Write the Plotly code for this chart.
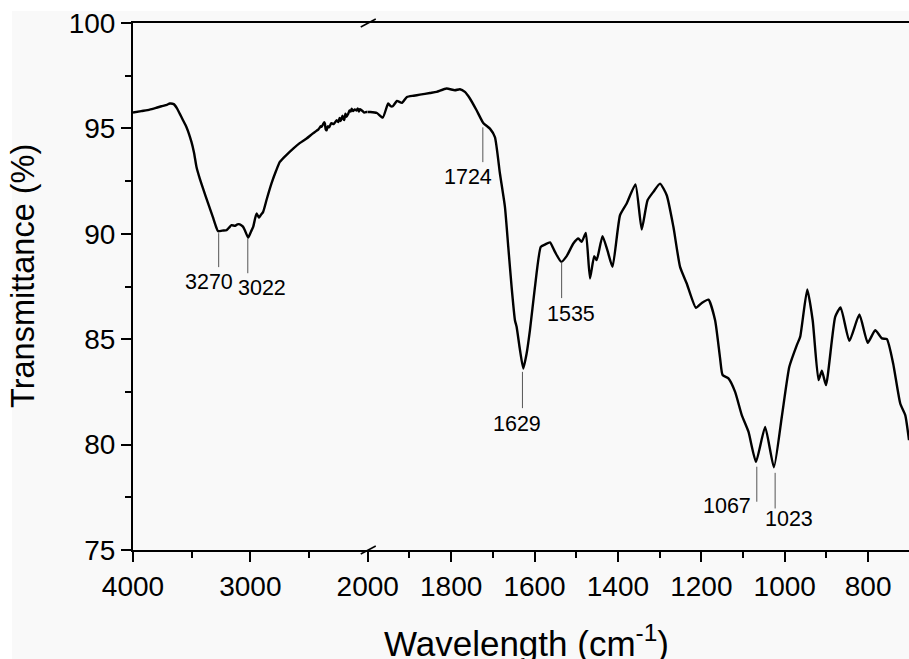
import plotly.graph_objects as go

# ---------------- data ----------------
# high-wavenumber segment (4000-2000 cm-1)
wn_high = [4000, 3930, 3858, 3800, 3758, 3710, 3687, 3653, 3625, 3602, 3575, 3545, 3502, 3480,
           3459, 3431, 3400, 3360, 3320, 3290, 3275, 3240, 3203, 3180, 3161, 3130, 3110, 3090,
           3065, 3047, 3019, 2995, 2976, 2948, 2935, 2925, 2910, 2891, 2860, 2820, 2780, 2749,
           2700, 2635, 2580, 2521, 2470, 2420, 2400, 2393, 2380, 2370, 2365, 2358, 2350, 2340,
           2330, 2310, 2290, 2265, 2250, 2240, 2230, 2215, 2209, 2200, 2190, 2180, 2166, 2155,
           2145, 2137, 2125, 2110, 2095, 2085, 2075, 2067, 2050, 2030, 2010, 2000]
t_high = [95.75, 95.82, 95.89, 95.98, 96.05, 96.12, 96.18, 96.15, 95.95, 95.70, 95.40, 95.07, 94.36, 93.85,
          93.17, 92.62, 92.10, 91.44, 90.80, 90.30, 90.12, 90.15, 90.17, 90.30, 90.41, 90.38, 90.45, 90.45,
          90.35, 90.17, 89.82, 90.10, 90.33, 90.96, 90.85, 90.77, 90.90, 91.04, 91.65, 92.39, 93.00, 93.41,
          93.70, 94.04, 94.30, 94.52, 94.75, 94.95, 95.10, 95.07, 95.20, 95.30, 95.23, 94.95, 94.91, 95.10,
          95.05, 95.25, 95.20, 95.39, 95.30, 95.50, 95.35, 95.60, 95.47, 95.40, 95.70, 95.55, 95.70, 95.85,
          95.80, 95.94, 95.82, 95.90, 95.85, 95.95, 95.80, 95.91, 95.85, 95.75, 95.78, 95.78]

# low-wavenumber segment (2000-700 cm-1)
wn_low = [2000, 1994, 1978, 1964, 1951, 1945, 1940, 1930, 1918, 1906, 1890, 1875, 1851, 1835,
          1811, 1791, 1779, 1767, 1755, 1739, 1723, 1707, 1695, 1683, 1671, 1663, 1655, 1647,
          1643, 1635, 1627, 1619, 1611, 1599, 1585, 1575, 1563, 1551, 1536, 1523, 1507, 1495,
          1487, 1477, 1467, 1457, 1451, 1437, 1425, 1413, 1395, 1379, 1358, 1343, 1329, 1315,
          1299, 1283, 1267, 1251, 1235, 1213, 1199, 1183, 1167, 1155, 1149, 1135, 1119, 1103,
          1087, 1069, 1047, 1026, 1007, 989, 971, 963, 946, 933, 919, 911, 901, 879,
          866, 845, 821, 801, 783, 767, 755, 740, 723, 711, 702]
t_low = [95.78, 95.78, 95.73, 95.51, 96.18, 96.05, 96.05, 96.30, 96.21, 96.49, 96.55, 96.60, 96.68, 96.73,
         96.89, 96.81, 96.86, 96.73, 96.42, 95.86, 95.26, 94.99, 94.59, 92.86, 91.28, 89.38, 87.48, 85.90,
         85.59, 84.50, 83.61, 84.32, 85.43, 87.48, 89.38, 89.49, 89.59, 89.14, 88.67, 88.94, 89.54, 89.78,
         89.62, 90.04, 87.88, 88.94, 88.75, 89.89, 89.20, 88.43, 90.88, 91.44, 92.34, 90.20, 91.59, 91.99,
         92.38, 91.83, 90.33, 88.43, 87.64, 86.49, 86.72, 86.88, 85.90, 84.09, 83.30, 83.14, 82.50, 81.40,
         80.61, 79.18, 80.84, 78.92, 81.32, 83.69, 84.72, 85.11, 87.36, 85.90, 83.06, 83.50, 82.82, 86.06,
         86.51, 84.92, 86.17, 84.83, 85.43, 85.04, 85.00, 83.85, 81.95, 81.40, 80.21]

# peak labels
peak_labels = ["3270", "3022", "1724", "1629", "1535", "1067", "1023"]
peak_wn = [3270, 3022, 1724, 1629, 1535, 1067, 1023]
peak_line_top = [90.03, 89.79, 95.05, 83.45, 88.65, 78.95, 78.66]
peak_line_bot = [88.42, 88.13, 93.40, 81.73, 86.95, 77.29, 76.97]
peak_text_y = [87.71, 87.42, 92.71, 81.00, 86.21, 77.08, 76.49]
peak_text_shift = [-10, 14, -15, -5, 9, -30, 14]

# tick values
x_left_ticks = [4000, 3000, 2000]
x_left_minor = [3500, 2500]
x_right_ticks = [1800, 1600, 1400, 1200, 1000, 800]
x_right_minor = [1900, 1700, 1500, 1300, 1100, 900, 700]
y_ticks = [75, 80, 85, 90, 95, 100]
y_minor = [77.5, 82.5, 87.5, 92.5, 97.5]

# ---------------- figure ----------------
FONT = "Liberation Sans, Arial, sans-serif"
BG = "#f9f9f9"
split = 0.3025

fig = go.Figure()
line_style = dict(color="black", width=2.4, shape="spline", smoothing=0.5)
fig.add_trace(go.Scatter(x=wn_high, y=t_high, mode="lines", line=line_style,
                         xaxis="x", yaxis="y", showlegend=False))
fig.add_trace(go.Scatter(x=wn_low, y=t_low, mode="lines", line=line_style,
                         xaxis="x2", yaxis="y", showlegend=False))

axis_common = dict(showline=True, linecolor="black", linewidth=2, ticks="outside",
                   ticklen=10, tickwidth=2, tickcolor="black", showgrid=False, zeroline=False,
                   automargin=False,
                   tickfont=dict(family=FONT, size=28, color="black"))

fig.update_layout(
    width=909, height=659,
    margin=dict(l=133, r=0, t=23, b=109, autoexpand=False),
    paper_bgcolor=BG, plot_bgcolor=BG,
    xaxis=dict(domain=[0, split], range=[4000, 2000], tickvals=x_left_ticks,
               minor=dict(tickvals=x_left_minor, ticklen=6, tickwidth=2, ticks="outside",
                          tickcolor="black"),
               mirror=True, anchor="y", **axis_common),
    xaxis2=dict(domain=[split, 1], range=[2000, 702], tickvals=x_right_ticks,
                minor=dict(tickvals=x_right_minor, ticklen=6, tickwidth=2, ticks="outside",
                           tickcolor="black"),
                mirror=True, anchor="y", **axis_common),
    yaxis=dict(range=[75, 100], tickvals=y_ticks,
               minor=dict(tickvals=y_minor, ticklen=6, tickwidth=2, ticks="outside",
                          tickcolor="black"),
               anchor="x", **axis_common),
)

shapes = []
# white border strips (top & left) of the original image
shapes.append(dict(type="rect", xref="paper", yref="paper", x0=-0.1714, x1=-0.1559,
                   y0=-0.21, y1=1.05, fillcolor="white", line=dict(width=0), layer="below"))
shapes.append(dict(type="rect", xref="paper", yref="paper", x0=-0.1714, x1=1.1,
                   y0=1.0228, y1=1.05, fillcolor="white", line=dict(width=0), layer="below"))
# axis break marks (top and bottom)
for ya in (1, 0):
    shapes.append(dict(type="line", xref="paper", yref="paper", xsizemode="pixel", ysizemode="pixel",
                       xanchor=split, yanchor=ya, x0=-7, x1=8, y0=-4, y1=4,
                       line=dict(color="black", width=1.5)))
# peak leader lines
for w, yt, yb in zip(peak_wn, peak_line_top, peak_line_bot):
    xr = "x" if w > 2000 else "x2"
    shapes.append(dict(type="line", xref=xr, yref="y", x0=w, x1=w, y0=yb, y1=yt,
                       line=dict(color="#555555", width=1)))

annotations = []
for lab, w, ty, sh in zip(peak_labels, peak_wn, peak_text_y, peak_text_shift):
    xr = "x" if w > 2000 else "x2"
    annotations.append(dict(text=lab, x=w, y=ty, xref=xr, yref="y", xshift=sh,
                            showarrow=False, xanchor="center", yanchor="middle",
                            font=dict(family=FONT, size=21.5, color="black")))
annotations.append(dict(text="Transmittance (%)", textangle=-90, xref="paper", yref="paper",
                        x=-0.142, y=0.5196, xanchor="center", yanchor="middle", showarrow=False,
                        font=dict(family=FONT, size=32.5, color="black")))
annotations.append(dict(text="Wavelength (cm<sup>-1</sup>)", xref="paper", yref="paper",
                        x=0.507, y=-0.1718, xanchor="center", yanchor="middle", showarrow=False,
                        font=dict(family=FONT, size=35, color="black")))

fig.update_layout(shapes=shapes, annotations=annotations)
fig.write_html("out.html")
